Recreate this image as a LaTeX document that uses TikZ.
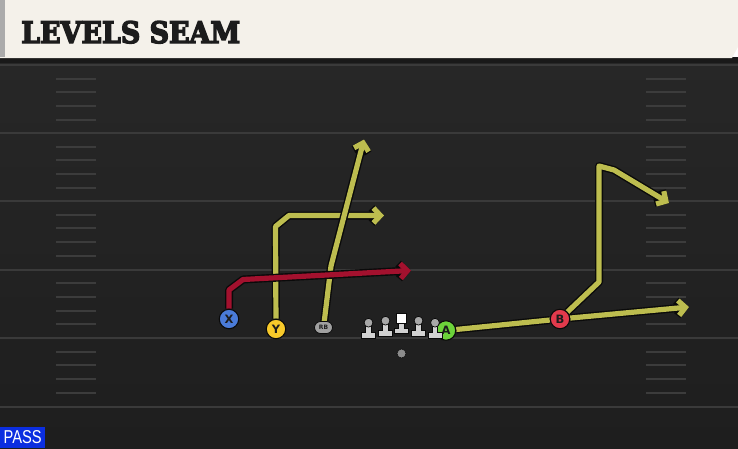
\documentclass[tikz,border=0pt]{standalone}
\usepackage{fontspec}
\newfontfamily\titlefont{DejaVu Serif}[BoldFeatures={FakeBold=5}]
\newfontfamily\lblfont{DejaVu Sans}
\newfontfamily\passfont{Liberation Sans}
\usetikzlibrary{arrows.meta,shapes.misc}
\pgfdeclarelayer{field}
\pgfdeclarelayer{routes}
\pgfsetlayers{field,routes,main}
\definecolor{cream}{HTML}{F4F1EA}
\definecolor{strip}{HTML}{ABABAB}
\definecolor{titlec}{HTML}{1C1C1C}
\definecolor{fieldtop}{HTML}{272727}
\definecolor{fieldbot}{HTML}{1E1E1E}
\definecolor{yardc}{HTML}{3A3A3A}
\definecolor{hashc}{HTML}{3C3C3C}
\definecolor{routey}{HTML}{BDBD4F}
\definecolor{router}{HTML}{A3112E}
\definecolor{xblue}{HTML}{4A7BD8}
\definecolor{yyel}{HTML}{F7C92A}
\definecolor{agreen}{HTML}{6CD33A}
\definecolor{bred}{HTML}{E23A4C}
\definecolor{rbgrey}{HTML}{A0A0A0}
\definecolor{lmbody}{HTML}{D2D2D2}
\definecolor{lmhead}{HTML}{A8A8A8}
\definecolor{qbgrey}{HTML}{8C8C8C}
\definecolor{passblue}{HTML}{0B2EE0}
\definecolor{outl}{HTML}{0A0A0A}
\tikzset{
  player/.style={circle, draw=outl, line width=1.1pt, minimum size=19.5pt, inner sep=0pt,
    font=\lblfont\bfseries\fontsize{11.5}{11.5}\selectfont, text=titlec},
  routeout/.style={draw=outl, line width=8pt, line join=round,
    -{Straight Barb[length=7pt,width=15pt]}},
  routeyel/.style={draw=routey, line width=5.2pt, line join=round,
    -{Straight Barb[length=7pt,width=15pt]}},
  routered/.style={draw=router, line width=5.2pt, line join=round,
    -{Straight Barb[length=7pt,width=15pt]}},
  yardline/.style={draw=yardc, line width=2pt},
  hashmark/.style={draw=hashc, line width=2pt},
  lineman/.pic={
    \filldraw[fill=lmbody, draw=outl, line width=0.7pt]
      (-2.8,2) -- (2.8,2) -- (2.8,9.5) -- (7,9.5) -- (7,15.5) -- (-7,15.5) -- (-7,9.5) -- (-2.8,9.5) -- cycle;
    \filldraw[fill=lmhead, draw=outl, line width=0.7pt] (0,0) circle (4.4);
  },
  centerman/.pic={
    \filldraw[fill=lmbody, draw=outl, line width=0.7pt]
      (-2.8,4) -- (2.8,4) -- (2.8,9.5) -- (7,9.5) -- (7,15) -- (-7,15) -- (-7,9.5) -- (-2.8,9.5) -- cycle;
    \filldraw[fill=white, draw=outl, line width=0.7pt] (-5,-5) rectangle (5,4.5);
  }
}
\begin{document}
\begin{tikzpicture}[x=1pt,y=-1pt]
\useasboundingbox (0,0) rectangle (738,448);
\begin{pgfonlayer}{field}
  \shade[top color=fieldtop, bottom color=fieldbot] (0,58) rectangle (738,448);
  \fill[black!90] (0,57) rectangle (738,63);
  \foreach \L in {65,133,201,269.5,338,407} {
    \draw[yardline] (0,\L) -- (738,\L);
  }
  \foreach \L in {65,133,201,269.5,338} {
    \foreach \j in {1,2,3,4} {
      \draw[hashmark] (56,\L+13.7*\j) -- (96,\L+13.7*\j);
      \draw[hashmark] (646,\L+13.7*\j) -- (686,\L+13.7*\j);
    }
  }
  \fill[cream] (0,0) -- (738,0) -- (738,47) -- (732,58) -- (0,58) -- cycle;
  \fill[strip] (0,0) rectangle (5,57);
\end{pgfonlayer}

\node[anchor=base west, inner sep=0pt, text=titlec] (title) at (21,43)
  {\resizebox{219pt}{22pt}{\titlefont\bfseries\fontsize{30}{30}\selectfont LEVELS SEAM}};

% players
\node[player, fill=xblue] (X) at (229,319) {X};
\node[player, fill=yyel] (Y) at (276,329) {Y};
\node[rounded rectangle, draw=outl, line width=0.8pt, fill=rbgrey, minimum width=18pt,
  minimum height=12pt, inner sep=0pt, font=\lblfont\bfseries\fontsize{6}{6}\selectfont,
  text=titlec] (RB) at (323.5,327.5) {RB};
\node[player, fill=agreen] (A) at (446,330.5) {A};
\node[player, fill=bred] (B) at (560,319) {B};
\node[circle, fill=qbgrey, draw=outl, line width=0.5pt, minimum size=9pt, inner sep=0pt] (QB) at (401.5,353.5) {};

\pic at (368.5,322.7) {lineman};
\pic at (385.5,320.7) {lineman};
\pic at (401.5,318.5) {centerman};
\pic at (418.5,320.7) {lineman};
\pic at (435,322.7) {lineman};

\node[fill=passblue, anchor=south west, minimum width=45pt, minimum height=21pt,
  inner sep=0pt, text=white] (pass) at (0,448)
  {\resizebox{38pt}{13pt}{\passfont PASS}};

% route waypoints
\coordinate (xa) at (229,290);
\coordinate (xb) at (243,279.5);
\coordinate (xe) at (411,270.5);
\coordinate (ya) at (275.5,226.5);
\coordinate (yb) at (289,215.5);
\coordinate (ye) at (384,215.5);
\coordinate (ra) at (331,266);
\coordinate (re) at (364,139.5);
\coordinate (ae) at (689,307);
\coordinate (ba) at (599,282);
\coordinate (bb) at (599,166);
\coordinate (bc) at (614,170);
\coordinate (be) at (669,203);

\begin{pgfonlayer}{routes}
  \draw[routeout] (Y) -- (ya) -- (yb) -- (ye);
  \draw[routeyel] (Y) -- (ya) -- (yb) -- (ye);
  \draw[routeout] (RB) -- (ra) -- (re);
  \draw[routeyel] (RB) -- (ra) -- (re);
  \draw[routeout] (A) -- (B) -- (ae);
  \draw[routeyel] (A) -- (B) -- (ae);
  \draw[routeout] (B) -- (ba) -- (bb) -- (bc) -- (be);
  \draw[routeyel] (B) -- (ba) -- (bb) -- (bc) -- (be);
  \draw[routeout] (X) -- (xa) -- (xb) -- (xe);
  \draw[routered] (X) -- (xa) -- (xb) -- (xe);
\end{pgfonlayer}
\end{tikzpicture}
\end{document}
